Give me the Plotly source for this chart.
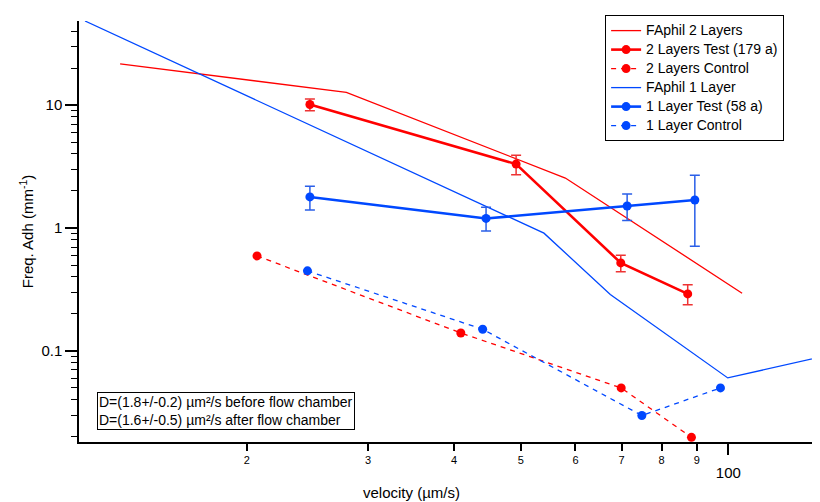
import plotly.graph_objects as go

# ---------------- data ----------------
fa2_x = [13.1, 27.9, 58.0, 104.7]
fa2_y = [21.6, 12.7, 2.55, 0.295]

test2_x = [24.7, 49.2, 69.8, 87.3]
test2_y = [10.1, 3.31, 0.52, 0.291]
test2_err = [1.1, 0.6, 0.08, 0.054]

ctrl2_x = [20.7, 40.9, 69.9, 88.4]
ctrl2_y = [0.593, 0.140, 0.050, 0.0198]

fa1_x = [11.65, 54.0, 67.4, 99.8, 136.0]
fa1_y = [48.3, 0.908, 0.288, 0.0603, 0.0893]

test1_x = [24.7, 44.5, 71.3, 89.4]
test1_y = [1.79, 1.196, 1.51, 1.69]
test1_err_plus = [0.40, 0.28, 0.38, 1.00]
test1_err_minus = [0.39, 0.25, 0.36, 0.98]

ctrl1_x = [24.5, 44.0, 74.9, 97.4]
ctrl1_y = [0.448, 0.150, 0.0298, 0.050]

x_minor_vals = [20, 30, 40, 50, 60, 70, 80, 90]
x_minor_text = ["2", "3", "4", "5", "6", "7", "8", "9"]
x_major_vals = [100]
x_major_text = ["100"]
y_major_vals = [0.1, 1, 10]
y_major_text = ["0.1", "1", "10"]

series_names = ["FAphil 2 Layers", "2 Layers Test (179 a)", "2 Layers Control",
                "FAphil 1 Layer", "1 Layer Test (58 a)", "1 Layer Control"]
note_lines = ["D=(1.8+/-0.2) µm²/s before flow chamber",
              "D=(1.6+/-0.5) µm²/s after flow chamber"]
x_title = "velocity (µm/s)"
y_title = "Freq. Adh (mm<sup>-1</sup>)"

RED = "#ff0000"
BLUE = "#0048ff"
FONT = "Arial, Liberation Sans, sans-serif"


def lname(s):
    return "<span style='font-size:14px'>" + s + "</span>"


fig = go.Figure()
fig.add_trace(go.Scatter(x=fa2_x, y=fa2_y, mode="lines", name=lname(series_names[0]),
                         line=dict(color=RED, width=1.3)))
fig.add_trace(go.Scatter(x=test2_x, y=test2_y, mode="lines+markers", name=lname(series_names[1]),
                         line=dict(color=RED, width=2.6), marker=dict(size=9, color=RED),
                         error_y=dict(type="data", array=test2_err, color="#ee3333",
                                      thickness=1.5, width=5)))
fig.add_trace(go.Scatter(x=ctrl2_x, y=ctrl2_y, mode="lines+markers", name=lname(series_names[2]),
                         line=dict(color=RED, width=1.3, dash="5px,5px"),
                         marker=dict(size=9, color=RED)))
fig.add_trace(go.Scatter(x=fa1_x, y=fa1_y, mode="lines", name=lname(series_names[3]),
                         line=dict(color=BLUE, width=1.3)))
fig.add_trace(go.Scatter(x=test1_x, y=test1_y, mode="lines+markers", name=lname(series_names[4]),
                         line=dict(color=BLUE, width=2.6), marker=dict(size=9, color=BLUE),
                         error_y=dict(type="data", array=test1_err_plus,
                                      arrayminus=test1_err_minus, color="#2a5fe8",
                                      thickness=1.5, width=5)))
fig.add_trace(go.Scatter(x=ctrl1_x, y=ctrl1_y, mode="lines+markers", name=lname(series_names[5]),
                         line=dict(color=BLUE, width=1.3, dash="5px,5px"),
                         marker=dict(size=9, color=BLUE)))
# invisible anchor so the overlaid major-tick axis is drawn
fig.add_trace(go.Scatter(x=x_major_vals, y=[None], xaxis="x2", mode="markers",
                         showlegend=False, hoverinfo="skip", marker=dict(opacity=0)))

xr = [1.0576, 2.133]
yr = [-1.741, 1.684]

y_minor = []
for d in [0.01, 0.1, 1, 10]:
    for k in range(2, 10):
        v = k * d
        if 10 ** yr[0] <= v <= 10 ** yr[1]:
            y_minor.append(v)

# page body has an 8px margin, so the figure is sized to fit the window
fig.update_layout(
    width=812, height=494,
    margin=dict(l=71, r=0, t=13, b=60),
    paper_bgcolor="white", plot_bgcolor="white",
    font=dict(family=FONT, color="black"),
    xaxis=dict(type="log", range=xr, showgrid=False, zeroline=False, automargin=False,
               showline=True, linecolor="black", linewidth=1.5,
               tickmode="array", tickvals=x_minor_vals, ticktext=x_minor_text,
               ticks="outside", ticklen=7, tickwidth=1.5, tickcolor="black",
               tickfont=dict(size=11, family=FONT)),
    xaxis2=dict(type="log", range=xr, overlaying="x", anchor="y", side="bottom",
                showgrid=False, zeroline=False, showline=False, automargin=False,
                tickmode="array", tickvals=x_major_vals, ticktext=x_major_text,
                ticks="outside", ticklen=12, tickwidth=1.5, tickcolor="black",
                tickfont=dict(size=15, family=FONT), ticklabelstandoff=5),
    yaxis=dict(type="log", range=yr, showgrid=False, zeroline=False, automargin=False,
               showline=True, linecolor="black", linewidth=1.5,
               tickmode="array", tickvals=y_major_vals, ticktext=y_major_text,
               ticks="outside", ticklen=12, tickwidth=1.5, tickcolor="black",
               tickfont=dict(size=15, family=FONT),
               minor=dict(tickmode="array", tickvals=y_minor, ticks="outside",
                          ticklen=6, tickwidth=1.2, tickcolor="black", showgrid=False),
               title=dict(text=y_title, font=dict(size=15, family=FONT), standoff=4)),
    legend=dict(x=0.71, y=1.014, xanchor="left", yanchor="top",
                bordercolor="black", borderwidth=1, bgcolor="white",
                font=dict(size=10.5, family=FONT), tracegroupgap=0,
                itemwidth=30),
    showlegend=True,
)

fig.add_annotation(xref="paper", yref="paper", x=0.449, y=-0.119,
                   xanchor="center", yanchor="middle", showarrow=False,
                   text=x_title, font=dict(size=15, family=FONT))

fig.add_annotation(xref="paper", yref="paper", x=0.0243, y=0.0285,
                   xanchor="left", yanchor="bottom", align="left", showarrow=False,
                   text="<br>".join(note_lines), font=dict(size=14, family=FONT),
                   bordercolor="black", borderwidth=1, borderpad=1, bgcolor="white")

fig.write_html("out.html")
